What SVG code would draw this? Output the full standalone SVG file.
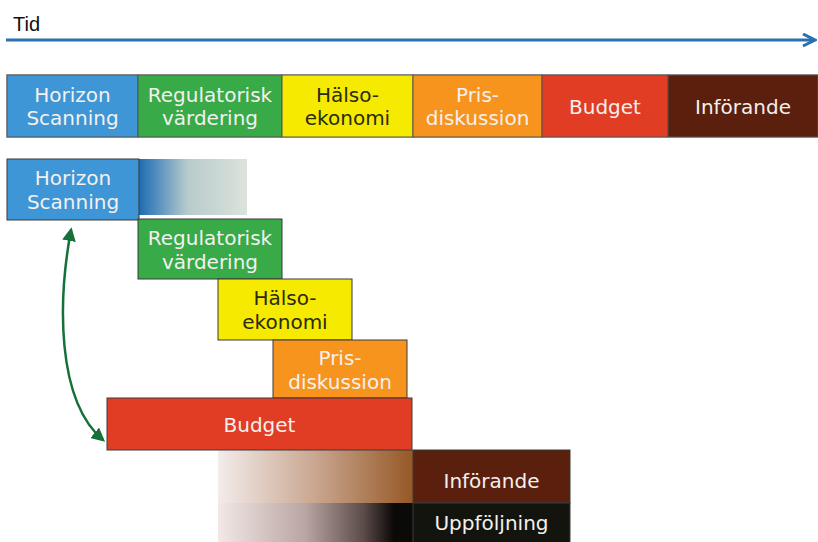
<svg xmlns="http://www.w3.org/2000/svg" width="818" height="542" viewBox="0 0 818 542">
<style>
.t{font-family:"DejaVu Sans",Verdana,sans-serif;font-size:20px;text-anchor:middle;fill:#f4f0ee}
.d{fill:#2a2a10}
.b{stroke:#3a3a3a;stroke-width:1}
.bar{stroke:#555;stroke-width:1}
</style>
<defs>
<marker id="tip" viewBox="0 0 10 10" refX="9" refY="5" markerWidth="5" markerHeight="5" orient="auto" markerUnits="strokeWidth">
<path d="M1 1 L9 5 L1 9" fill="none" stroke="#2a6fb0" stroke-width="2"/>
</marker>
<marker id="ga" viewBox="0 0 10 10" refX="8" refY="5" markerWidth="5.5" markerHeight="5.5" orient="auto-start-reverse" markerUnits="strokeWidth">
<path d="M0 0 L10 5 L0 10 Z" fill="#16703a"/>
</marker>
<linearGradient id="gh" x1="0" x2="1" y1="0" y2="0">
<stop offset="0" stop-color="#1f6cb0"/>
<stop offset="0.15" stop-color="#4e8bbd"/>
<stop offset="0.45" stop-color="#b8cbcc"/>
<stop offset="1" stop-color="#dce3dc"/>
</linearGradient>
<linearGradient id="gi" x1="0" x2="1" y1="0" y2="0">
<stop offset="0" stop-color="#f3ecea"/>
<stop offset="0.5" stop-color="#c9a690"/>
<stop offset="1" stop-color="#965826"/>
</linearGradient>
<linearGradient id="gu" x1="0" x2="1" y1="0" y2="0">
<stop offset="0" stop-color="#f2e8e6"/>
<stop offset="0.45" stop-color="#b9a5a2"/>
<stop offset="0.75" stop-color="#5a4a48"/>
<stop offset="0.9" stop-color="#0c0a08"/>
<stop offset="1" stop-color="#0a0a08"/>
</linearGradient>
</defs>
<rect width="818" height="542" fill="#ffffff"/>

<g id="timeline">
<text x="13" y="31" font-family="Liberation Sans, Arial, sans-serif" font-size="20" fill="#111">Tid</text>
<line x1="6" y1="40" x2="815" y2="40" stroke="#2a6fb0" stroke-width="3" marker-end="url(#tip)"/>
</g>

<g id="bar">
<rect x="7" y="75" width="811" height="62" fill="none" stroke="#a8a8a8" stroke-width="1.5"/>
<g id="bar-horizon"><rect x="7" y="75" width="131" height="62" fill="#3f96d6" class="bar"/><text class="t" x="72.5" y="102">Horizon</text><text class="t" x="72.5" y="125">Scanning</text></g>
<g id="bar-regulatorisk"><rect x="138" y="75" width="144" height="62" fill="#38aa48" class="bar"/><text class="t" x="210" y="102">Regulatorisk</text><text class="t" x="210" y="125">värdering</text></g>
<g id="bar-halso"><rect x="282" y="75" width="131" height="62" fill="#f6ea00" class="bar"/><text class="t d" x="347.5" y="102">Hälso-</text><text class="t d" x="347.5" y="125">ekonomi</text></g>
<g id="bar-pris"><rect x="413" y="75" width="129" height="62" fill="#f7941e" class="bar"/><text class="t" x="477.5" y="102">Pris-</text><text class="t" x="477.5" y="125">diskussion</text></g>
<g id="bar-budget"><rect x="542" y="75" width="126" height="62" fill="#e13d25" class="bar"/><text class="t" x="605" y="114">Budget</text></g>
<g id="bar-inforande"><rect x="668" y="75" width="150" height="62" fill="#5b1f0d" class="bar"/><text class="t" x="743" y="114">Införande</text></g>
</g>

<g id="fades">
<rect x="139" y="159" width="108" height="56" fill="url(#gh)"/>
<rect x="218" y="450" width="195" height="53" fill="url(#gi)"/>
<rect x="218" y="503" width="195" height="39" fill="url(#gu)"/>
</g>

<g id="node-horizon"><rect x="7" y="159" width="132" height="61" fill="#3f96d6" class="b"/><text class="t" x="73" y="185">Horizon</text><text class="t" x="73" y="209">Scanning</text></g>
<g id="node-regulatorisk"><rect x="138" y="219" width="144" height="60" fill="#38aa48" class="b"/><text class="t" x="210" y="245">Regulatorisk</text><text class="t" x="210" y="269">värdering</text></g>
<g id="node-halso"><rect x="218" y="279" width="134" height="61" fill="#f6ea00" class="b"/><text class="t d" x="285" y="305">Hälso-</text><text class="t d" x="285" y="329">ekonomi</text></g>
<g id="node-pris"><rect x="273" y="340" width="134" height="58" fill="#f7941e" class="b"/><text class="t" x="340" y="365">Pris-</text><text class="t" x="340" y="389">diskussion</text></g>
<g id="node-budget"><rect x="107" y="398" width="305" height="52" fill="#e13d25" class="b"/><text class="t" x="259.5" y="432">Budget</text></g>
<g id="node-inforande"><rect x="413" y="450" width="157" height="53" fill="#5b1f0d" class="b"/><text class="t" x="491.5" y="488">Införande</text></g>
<g id="node-uppfoljning"><rect x="413" y="503" width="157" height="40" fill="#14140f" class="b"/><text class="t" x="491.5" y="530">Uppföljning</text></g>

<g id="connectors">
<path d="M71 230 C 58 300, 56 400, 103 440" fill="none" stroke="#16703a" stroke-width="2.5" marker-start="url(#ga)" marker-end="url(#ga)"/>
</g>
</svg>
